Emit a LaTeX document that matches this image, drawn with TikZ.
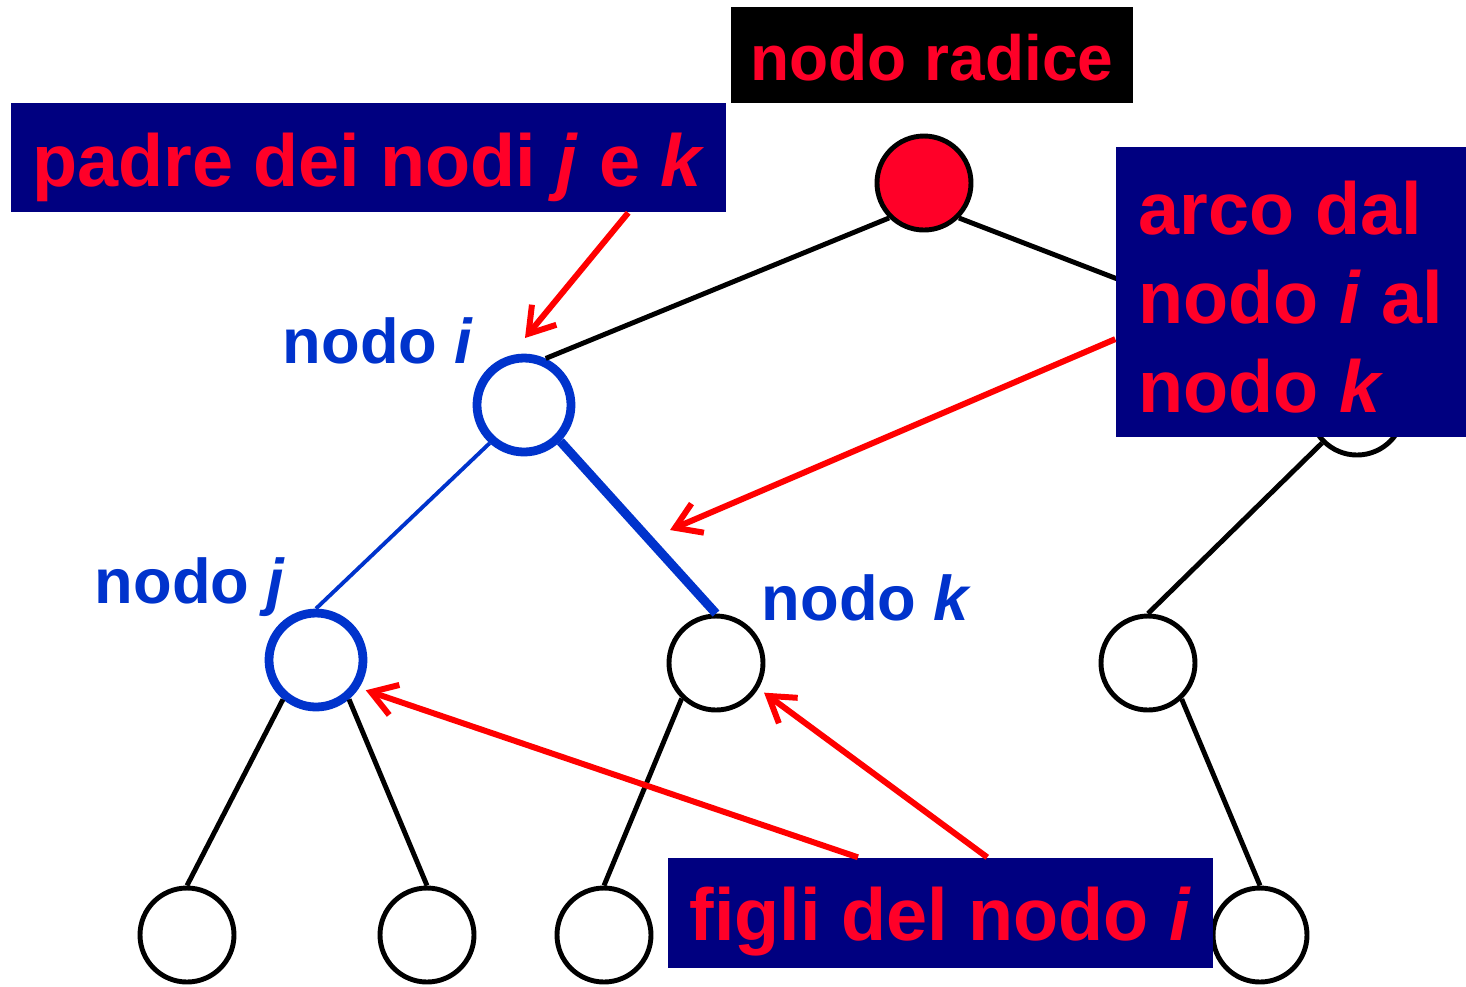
\documentclass[tikz,border=0pt]{standalone}
\usepackage{fontspec}
\setmainfont{Liberation Sans}
\usepackage{tikz}
\usetikzlibrary{arrows.meta}
\usetikzlibrary{positioning}

\definecolor{txtred}{RGB}{255,0,40}
\definecolor{navy}{RGB}{0,0,128}
\definecolor{nodeblue}{RGB}{0,51,204}

\tikzset{
  vertex/.style={circle, draw=black, line width=1.4pt, fill=white, minimum size=0.94cm, inner sep=0pt},
  marked/.style={vertex, draw=nodeblue, line width=2.5pt},
  treeedge/.style={line width=1.4pt},
  sign/.style={fill=navy, text=txtred, inner sep=0pt, font=\bfseries\fontsize{21}{25.3}\selectfont},
  namelabel/.style={text=nodeblue, inner sep=0pt, font=\bfseries\fontsize{18}{21}\selectfont},
  pointer/.style={draw=red, line width=1.7pt, -{Straight Barb[length=7pt,width=9pt]}}
}

\begin{document}
\begin{tikzpicture}
        \useasboundingbox (0,0) rectangle (14.66,-9.86);
        % the tree
        \node (root) at (9.24,-1.83) [vertex, fill=txtred] {};
        \node (i) at (5.24,-4.05) [marked] {};
        \node (r) at (13.57,-4.08) [vertex] {};
        \node (j) at (3.16,-6.60) [marked] {};
        \node (k) at (7.16,-6.63) [vertex] {};
        \node (rc) at (11.48,-6.63) [vertex] {};
        \node (b1) at (1.87,-9.35) [vertex] {};
        \node (b2) at (4.27,-9.35) [vertex] {};
        \node (b3) at (6.04,-9.35) [vertex] {};
        \node (b4) at (12.60,-9.35) [vertex] {};
        \draw[treeedge] (root.-135) -- (i.65);
        \draw[treeedge] (root.-45) -- (r.115);
        \draw[treeedge, draw=nodeblue, line width=1.1pt] (i.-132) -- (j.north);
        \draw[treeedge, draw=nodeblue, line width=2.6pt] (i.-45) -- (k.north);
        \draw[treeedge] (r.-135) -- (rc.north);
        \draw[treeedge] (j.-130) -- (b1.north);
        \draw[treeedge] (j.-50) -- (b2.north);
        \draw[treeedge] (k.-134) -- (b3.north);
        \draw[treeedge] (rc.-47) -- (b4.north);
        % names of the nodes
        \node (labI) at (2.82,-3.63) [namelabel, anchor=base west] {nodo \textit{i}};
        \node (labJ) at (0.94,-6.03) [namelabel, anchor=base west] {nodo \textit{j}};
        \node (labK) at (7.61,-6.20) [namelabel, anchor=base west] {nodo \textit{k}};
        % boxed captions
        \node (radice) at (9.32,-0.55) [sign, fill=black, font=\bfseries\fontsize{18.2}{22}\selectfont,
            minimum width=4.02cm, minimum height=0.96cm, text height=0.50cm, text depth=0pt] {nodo radice};
        \node (padre) at (3.685,-1.575) [sign, minimum width=7.15cm, minimum height=1.09cm,
            text height=0.57cm, text depth=0pt] {padre dei nodi \textit{j} e \textit{k}};
        \node (arco) at (12.91,-2.92) [sign, minimum width=3.50cm, minimum height=2.90cm,
            align=left] {\rule{0pt}{0.63cm}arco dal\\nodo \textit{i} al\\nodo \textit{k}};
        \node (figli) at (9.405,-9.13) [sign, minimum width=5.45cm, minimum height=1.10cm,
            text height=0.54cm, text depth=0pt] {figli del nodo \textit{i}};
        % arrows
        \coordinate (tipI) at (5.25,-3.38);
        \coordinate (tipIK) at (6.70,-5.30);
        \draw[pointer] (padre.-12.8) -- (tipI);
        \draw[pointer] (arco.195) -- (tipIK);
        \draw[pointer, shorten >=2pt] (figli.146) -- (j.-33);
        \draw[pointer, shorten >=2pt] (figli.50) -- (k.-31);
\end{tikzpicture}
\end{document}
